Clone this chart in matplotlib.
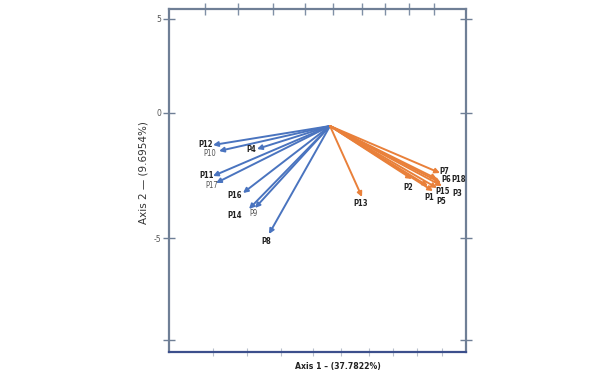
import matplotlib
matplotlib.use('Agg')
import matplotlib.pyplot as plt

# loadings (axis 1, axis 2)
blue_names = ['P12', 'P10', 'P4', 'P11', 'P17', 'P16', 'P14', 'P9', 'P8']
blue_x = [-4.68, -4.44, -2.92, -4.68, -4.56, -3.48, -3.24, -3.00, -2.44]
blue_y = [-1.28, -1.52, -1.44, -2.52, -2.80, -3.20, -3.84, -3.80, -4.84]

orange_names = ['P13', 'P7', 'P6', 'P18', 'P2', 'P15', 'P3', 'P1', 'P5']
orange_x = [1.28, 4.40, 4.28, 4.44, 3.28, 4.28, 4.48, 3.92, 4.12]
orange_y = [-3.36, -2.40, -2.64, -2.80, -2.64, -3.00, -2.92, -2.92, -3.12]

origin = (0.0, -0.52)

# label positions
blue_lab = [(-4.96, -1.26), (-4.80, -1.62), (-3.16, -1.48), (-4.92, -2.50), (-4.72, -2.90),
            (-3.80, -3.28), (-3.80, -4.08), (-3.04, -4.00), (-2.56, -5.16)]
blue_bold = [True, False, True, True, False, True, True, False, True]
orange_lab = [(1.24, -3.60), (4.56, -2.36), (4.66, -2.68), (5.16, -2.68), (3.12, -2.96),
              (4.52, -3.16), (5.08, -3.20), (3.96, -3.40), (4.44, -3.52)]

ytick_pos = [3.76, 0, -5, -9.08]
ytick_lab = ['5', '0', '-5', '']
xtick_bottom = [-4.68, -3.32, -1.96, -0.68, 0.44, 1.56, 2.52, 3.48, 4.48]
xtick_top = [-5.0, -3.68, -2.28, -1.0, 0.12, 1.28, 2.2, 3.16, 4.16]

BLUE = '#4a74bf'
ORANGE = '#e9803a'

fig = plt.figure(figsize=(6.08, 3.78), dpi=100)
ax = fig.add_axes([169/608, 26/378, 297/608, 343/378])
ax.set_xlim(-6.44, 5.44)
ax.set_ylim(-9.56, 4.16)

def draw(xs, ys, names, labs, color, bold):
    for x, y, n, (lx, ly), b in zip(xs, ys, names, labs, bold):
        ax.annotate('', xy=(x, y), xytext=origin,
                    arrowprops=dict(arrowstyle='-|>', color=color, lw=1.4,
                                    mutation_scale=7, shrinkA=0, shrinkB=0))
        ax.text(lx, ly, n, ha='center', va='center', fontsize=5.5,
                family='DejaVu Sans', stretch='condensed',
                color='#222222' if b else '#555555',
                fontweight='bold' if b else 'normal')

draw(blue_x, blue_y, blue_names, blue_lab, BLUE, blue_bold)
draw(orange_x, orange_y, orange_names, orange_lab, ORANGE, [True] * 9)

for s in ['left', 'right', 'top']:
    ax.spines[s].set_color('#6f7f96')
    ax.spines[s].set_linewidth(1.6)
ax.spines['bottom'].set_color('#3c4f8c')
ax.spines['bottom'].set_linewidth(1.6)

ax.set_yticks(ytick_pos)
ax.set_yticklabels(ytick_lab)
ax.tick_params(axis='y', direction='inout', length=9, width=1, color='#6f7f96',
               labelsize=5.5, labelcolor='#555555', right=True, pad=1)
ax.set_xticks(xtick_bottom)
ax.set_xticklabels([])
ax.tick_params(axis='x', direction='inout', length=6, width=0.8, color='#b8c0cc')
top = ax.secondary_xaxis('top')
top.set_xticks(xtick_top)
top.set_xticklabels([])
top.tick_params(direction='inout', length=9, width=1, color='#8090a6')
top.spines['top'].set_visible(False)

fig.text(338/608, 1 - 366/378, 'Axis 1 \u2013 (37.7822%)', ha='center', va='center',
         fontsize=6.2, fontweight='bold', family='DejaVu Sans', stretch='condensed',
         color='#222222')
fig.text(143/608, 1 - 173/378, 'Axis 2 \u2014 (9.6954%)', ha='center', va='center',
         rotation=90, fontsize=7.5, family='DejaVu Sans', color='#333333')

fig.savefig('out.png', dpi=100)
